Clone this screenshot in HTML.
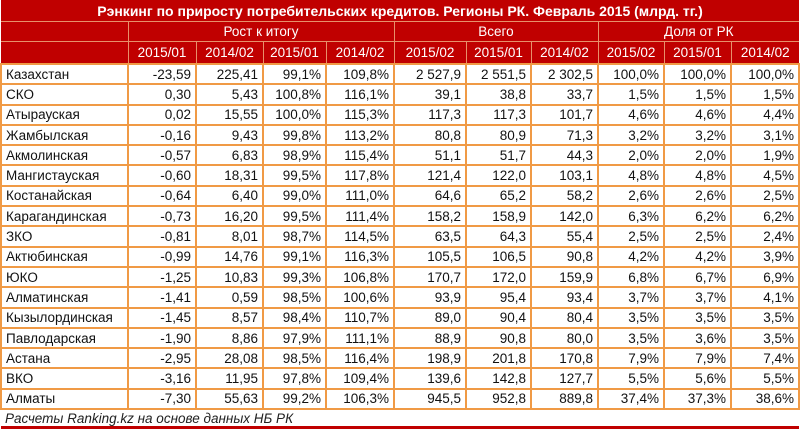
<!DOCTYPE html>
<html><head><meta charset="utf-8"><style>
body{margin:0;width:800px;height:431px;background:#fff;overflow:hidden;font-family:"Liberation Sans","DejaVu Sans",sans-serif;}
table{border-collapse:collapse;table-layout:fixed;position:absolute;left:0;top:0;width:798px;}
td{padding:0 4px;font-size:13.5px;white-space:nowrap;overflow:hidden;}
.h td{background:#c00000;color:#fff;text-align:center;border-left:1px solid #e8906a;border-bottom:1px solid #e8906a;}
.t td{font-weight:bold;font-size:14px;height:21px;border-left:none;}
.h2 td{height:19px;}
.h3 td{height:21px;}
.d td{height:18.3px;border:2px solid #f09a45;text-align:right;color:#111;}
.d td:first-child{text-align:left;}
.f td{height:16px;font-style:italic;border-bottom:3px solid #c00000;color:#222;}
</style></head><body>
<table>
<colgroup><col style="width:127px"><col style="width:68px"><col style="width:67px"><col style="width:63px"><col style="width:68px"><col style="width:72px"><col style="width:65px"><col style="width:67px"><col style="width:66px"><col style="width:67px"><col style="width:68px"></colgroup>
<tr class="h t"><td colspan="11">Рэнкинг по приросту потребительских кредитов. Регионы РК. Февраль 2015 (млрд. тг.)</td></tr>
<tr class="h h2"><td style="border-left:none"></td><td colspan="4">Рост к итогу</td><td colspan="3">Всего</td><td colspan="3">Доля от РК</td></tr>
<tr class="h h3"><td style="border-left:none"></td><td>2015/01</td><td>2014/02</td><td>2015/01</td><td>2014/02</td><td>2015/02</td><td>2015/01</td><td>2014/02</td><td>2015/02</td><td>2015/01</td><td>2014/02</td></tr>
<tr class="d"><td>Казахстан</td><td>-23,59</td><td>225,41</td><td>99,1%</td><td>109,8%</td><td>2 527,9</td><td>2 551,5</td><td>2 302,5</td><td>100,0%</td><td>100,0%</td><td>100,0%</td></tr>
<tr class="d"><td>СКО</td><td>0,30</td><td>5,43</td><td>100,8%</td><td>116,1%</td><td>39,1</td><td>38,8</td><td>33,7</td><td>1,5%</td><td>1,5%</td><td>1,5%</td></tr>
<tr class="d"><td>Атырауская</td><td>0,02</td><td>15,55</td><td>100,0%</td><td>115,3%</td><td>117,3</td><td>117,3</td><td>101,7</td><td>4,6%</td><td>4,6%</td><td>4,4%</td></tr>
<tr class="d"><td>Жамбылская</td><td>-0,16</td><td>9,43</td><td>99,8%</td><td>113,2%</td><td>80,8</td><td>80,9</td><td>71,3</td><td>3,2%</td><td>3,2%</td><td>3,1%</td></tr>
<tr class="d"><td>Акмолинская</td><td>-0,57</td><td>6,83</td><td>98,9%</td><td>115,4%</td><td>51,1</td><td>51,7</td><td>44,3</td><td>2,0%</td><td>2,0%</td><td>1,9%</td></tr>
<tr class="d"><td>Мангистауская</td><td>-0,60</td><td>18,31</td><td>99,5%</td><td>117,8%</td><td>121,4</td><td>122,0</td><td>103,1</td><td>4,8%</td><td>4,8%</td><td>4,5%</td></tr>
<tr class="d"><td>Костанайская</td><td>-0,64</td><td>6,40</td><td>99,0%</td><td>111,0%</td><td>64,6</td><td>65,2</td><td>58,2</td><td>2,6%</td><td>2,6%</td><td>2,5%</td></tr>
<tr class="d"><td>Карагандинская</td><td>-0,73</td><td>16,20</td><td>99,5%</td><td>111,4%</td><td>158,2</td><td>158,9</td><td>142,0</td><td>6,3%</td><td>6,2%</td><td>6,2%</td></tr>
<tr class="d"><td>ЗКО</td><td>-0,81</td><td>8,01</td><td>98,7%</td><td>114,5%</td><td>63,5</td><td>64,3</td><td>55,4</td><td>2,5%</td><td>2,5%</td><td>2,4%</td></tr>
<tr class="d"><td>Актюбинская</td><td>-0,99</td><td>14,76</td><td>99,1%</td><td>116,3%</td><td>105,5</td><td>106,5</td><td>90,8</td><td>4,2%</td><td>4,2%</td><td>3,9%</td></tr>
<tr class="d"><td>ЮКО</td><td>-1,25</td><td>10,83</td><td>99,3%</td><td>106,8%</td><td>170,7</td><td>172,0</td><td>159,9</td><td>6,8%</td><td>6,7%</td><td>6,9%</td></tr>
<tr class="d"><td>Алматинская</td><td>-1,41</td><td>0,59</td><td>98,5%</td><td>100,6%</td><td>93,9</td><td>95,4</td><td>93,4</td><td>3,7%</td><td>3,7%</td><td>4,1%</td></tr>
<tr class="d"><td>Кызылординская</td><td>-1,45</td><td>8,57</td><td>98,4%</td><td>110,7%</td><td>89,0</td><td>90,4</td><td>80,4</td><td>3,5%</td><td>3,5%</td><td>3,5%</td></tr>
<tr class="d"><td>Павлодарская</td><td>-1,90</td><td>8,86</td><td>97,9%</td><td>111,1%</td><td>88,9</td><td>90,8</td><td>80,0</td><td>3,5%</td><td>3,6%</td><td>3,5%</td></tr>
<tr class="d"><td>Астана</td><td>-2,95</td><td>28,08</td><td>98,5%</td><td>116,4%</td><td>198,9</td><td>201,8</td><td>170,8</td><td>7,9%</td><td>7,9%</td><td>7,4%</td></tr>
<tr class="d"><td>ВКО</td><td>-3,16</td><td>11,95</td><td>97,8%</td><td>109,4%</td><td>139,6</td><td>142,8</td><td>127,7</td><td>5,5%</td><td>5,6%</td><td>5,5%</td></tr>
<tr class="d"><td>Алматы</td><td>-7,30</td><td>55,63</td><td>99,2%</td><td>106,3%</td><td>945,5</td><td>952,8</td><td>889,8</td><td>37,4%</td><td>37,3%</td><td>38,6%</td></tr>
<tr class="f"><td colspan="11">Расчеты Ranking.kz на основе данных НБ РК</td></tr>
</table>
</body></html>
